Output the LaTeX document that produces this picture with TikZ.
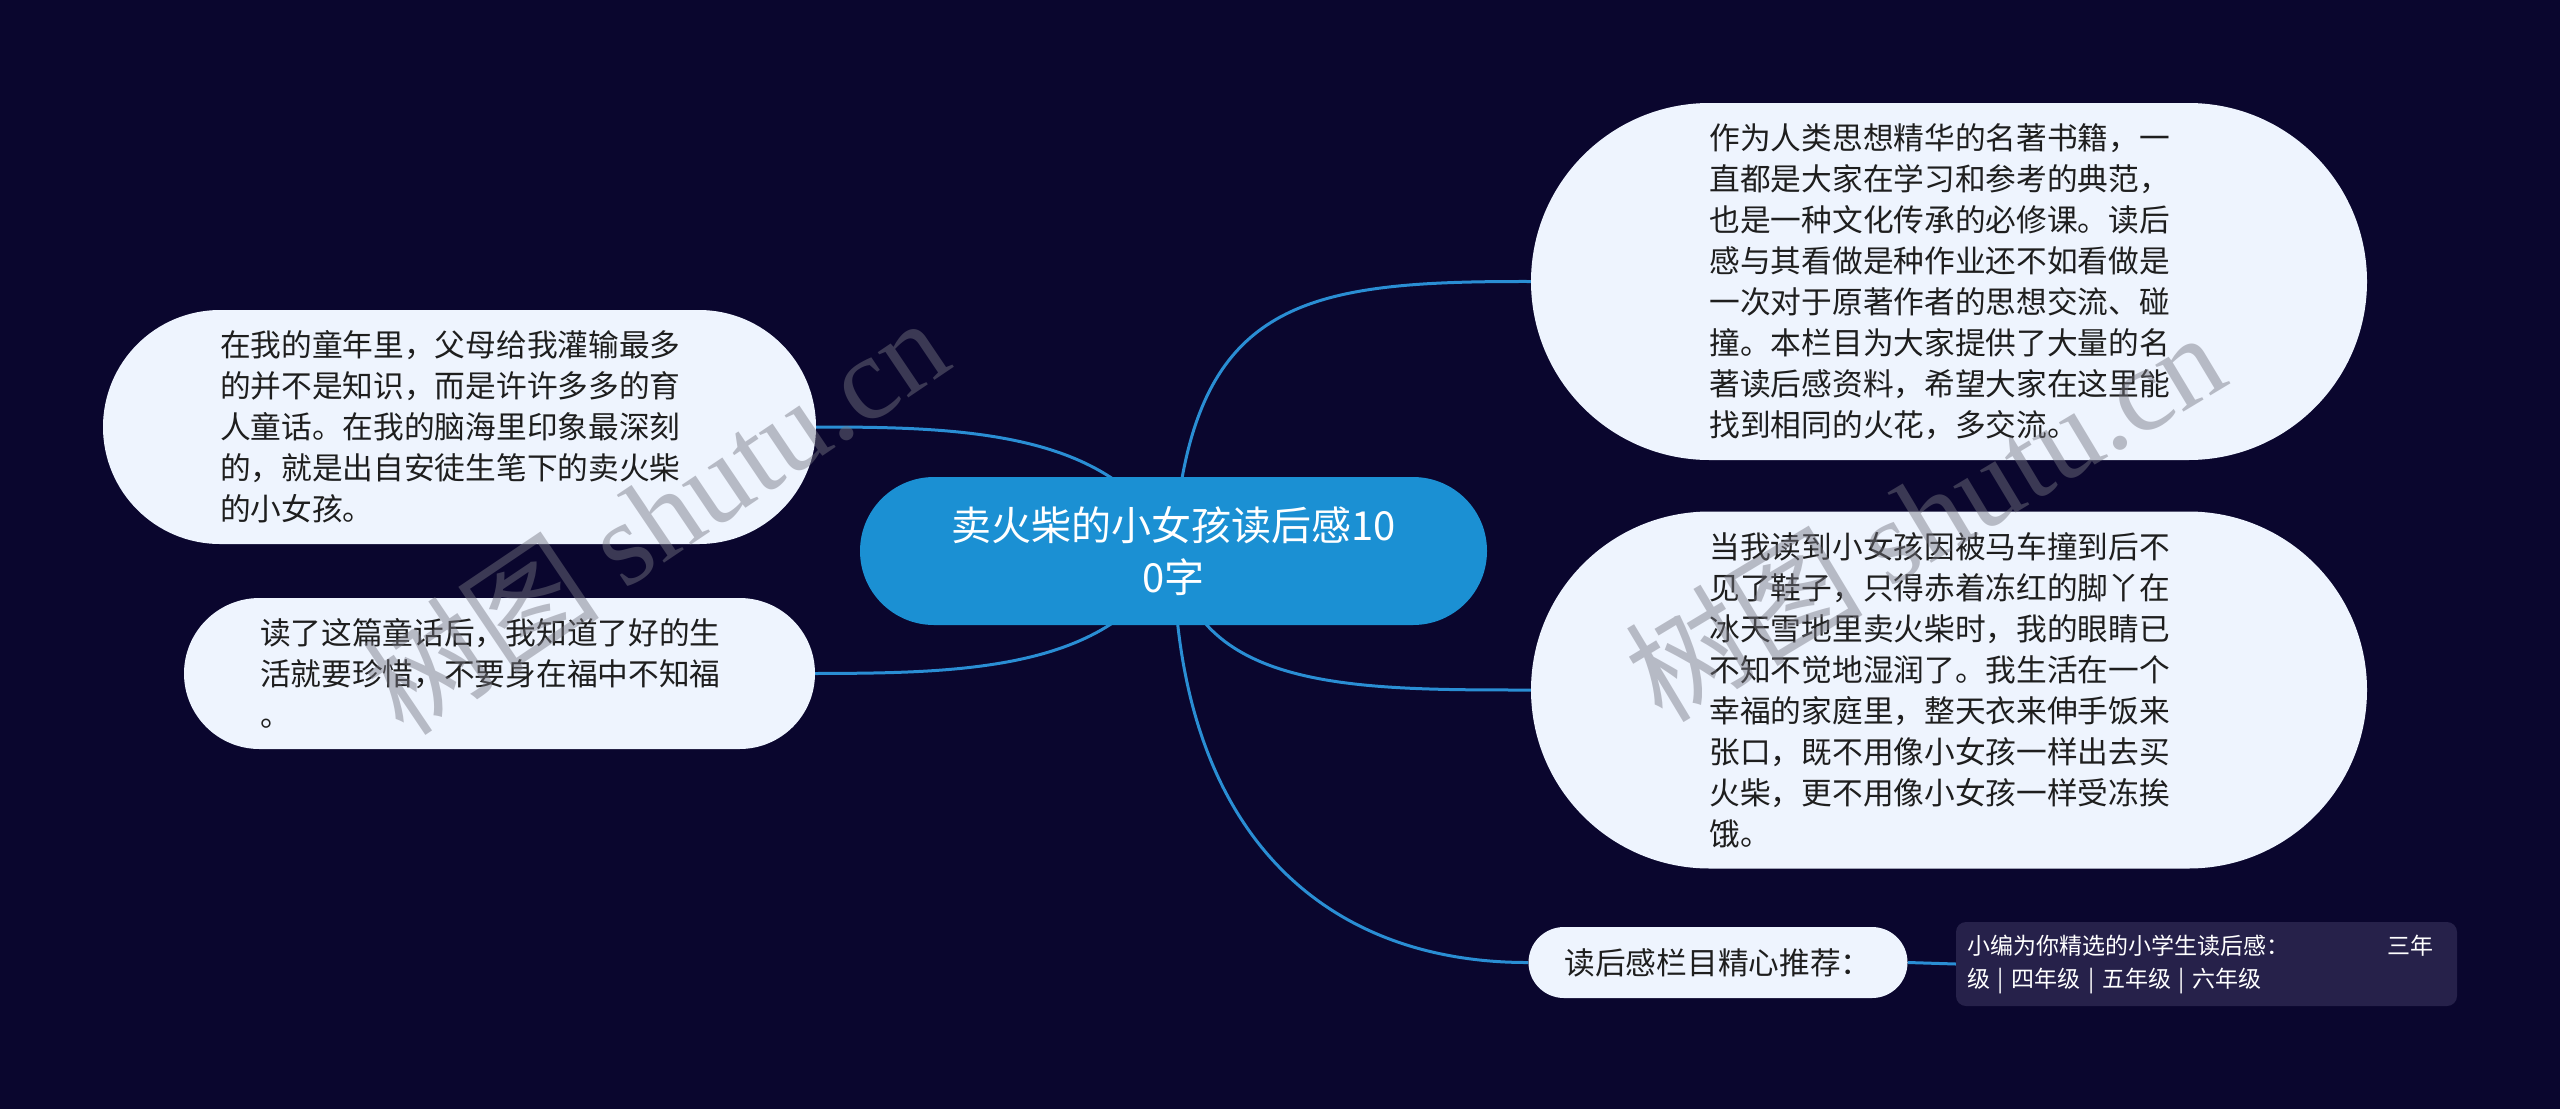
\documentclass[tikz,border=0pt]{standalone}
\usepackage{fontspec}
\setmainfont{Noto Sans CJK SC}
\newfontfamily\wmserif{Liberation Serif}
\usetikzlibrary{shapes.misc,backgrounds}
\definecolor{bgnavy}{RGB}{10,6,46}
\definecolor{pillfill}{RGB}{238,244,254}
\definecolor{rootblue}{RGB}{27,144,211}
\definecolor{linkblue}{RGB}{42,142,212}
\definecolor{boxfill}{RGB}{38,33,74}
\definecolor{bodytext}{RGB}{30,30,30}
\definecolor{wmgray}{RGB}{118,118,130}

\begin{document}
\begin{tikzpicture}[x=1pt,y=-1pt,
    leaf/.style={rounded rectangle, fill=pillfill, text=bodytext, inner sep=0pt,
      text width=479pt, align=left, font=\fontsize{30.7}{41}\selectfont},
    root/.style={rounded rectangle, fill=rootblue, text=white, inner sep=0pt,
      text width=479pt, align=center, font=\fontsize{40}{52}\selectfont},
    link/.style={draw=linkblue, line width=3pt},
    wmark/.style={text=wmgray, text opacity=0.46, font=\fontsize{119}{119}\selectfont}]
  \useasboundingbox (0,0) rectangle (2560,1109);
  % centre and branches
  \node[root, minimum width=627pt, minimum height=148pt] (c) at (1173.5,551) {卖火柴的小女孩读后感10\\0字};
  \node[leaf, minimum width=836pt, minimum height=357pt] (rt) at (1949,281.5) {作为人类思想精华的名著书籍，一\\直都是大家在学习和参考的典范，\\也是一种文化传承的必修课。读后\\感与其看做是种作业还不如看做是\\一次对于原著作者的思想交流、碰\\撞。本栏目为大家提供了大量的名\\著读后感资料，希望大家在这里能\\找到相同的火花，多交流。};
  \node[leaf, minimum width=836pt, minimum height=357pt] (rm) at (1949,690) {当我读到小女孩因被马车撞到后不\\见了鞋子，只得赤着冻红的脚丫在\\冰天雪地里卖火柴时，我的眼睛已\\不知不觉地湿润了。我生活在一个\\幸福的家庭里，整天衣来伸手饭来\\张口，既不用像小女孩一样出去买\\火柴，更不用像小女孩一样受冻挨\\饿。};
  \node[leaf, minimum width=713pt, minimum height=234pt] (lt) at (459.5,427) {在我的童年里，父母给我灌输最多\\的并不是知识，而是许许多多的育\\人童话。在我的脑海里印象最深刻\\的，就是出自安徒生笔下的卖火柴\\的小女孩。};
  \node[leaf, minimum width=631pt, minimum height=151pt] (lb) at (499.5,673.5) {读了这篇童话后，我知道了好的生\\活就要珍惜，不要身在福中不知福\\。};
  \node[rounded rectangle, fill=pillfill, text=bodytext, inner sep=0pt, minimum width=379pt, minimum height=71pt,
    font=\fontsize{30.7}{36}\selectfont] (sm) at (1718,962.5) {读后感栏目精心推荐：};
  \node[rectangle, rounded corners=10pt, fill=boxfill, text=white, inner sep=0pt, minimum width=501pt, minimum height=84pt,
    text width=479pt, align=left, font=\fontsize{23}{33}\selectfont] (grades) at (2206.5,964) {小编为你精选的小学生读后感：\hspace{98pt}三年\\级 | 四年级 | 五年级 | 六年级};
  % watermarks
  \node[wmark, rotate=34] (wml) at (655,515) {树图 {\wmserif shutu.cn}};
  \node[wmark, rotate=31] (wmr) at (1924,515) {树图 {\wmserif shutu.cn}};
  \begin{scope}[on background layer]
    \fill[bgnavy] (0,0) rectangle (2560,1109);
    \draw[link] (c.center) .. controls (1190,300) and (1300,281) .. (rt.west);
    \draw[link] (c.center) .. controls (1195,690) and (1350,690) .. (rm.west);
    \draw[link] (c.center) .. controls (1176,840) and (1330,963) .. (sm.west);
    \draw[link] (c.center) .. controls (1120,430) and (960,427) .. (lt.east);
    \draw[link] (c.center) .. controls (1120,672) and (960,673) .. (lb.east);
    \draw[link] (sm.east) -- (grades.west);
  \end{scope}
\end{tikzpicture}
\end{document}
